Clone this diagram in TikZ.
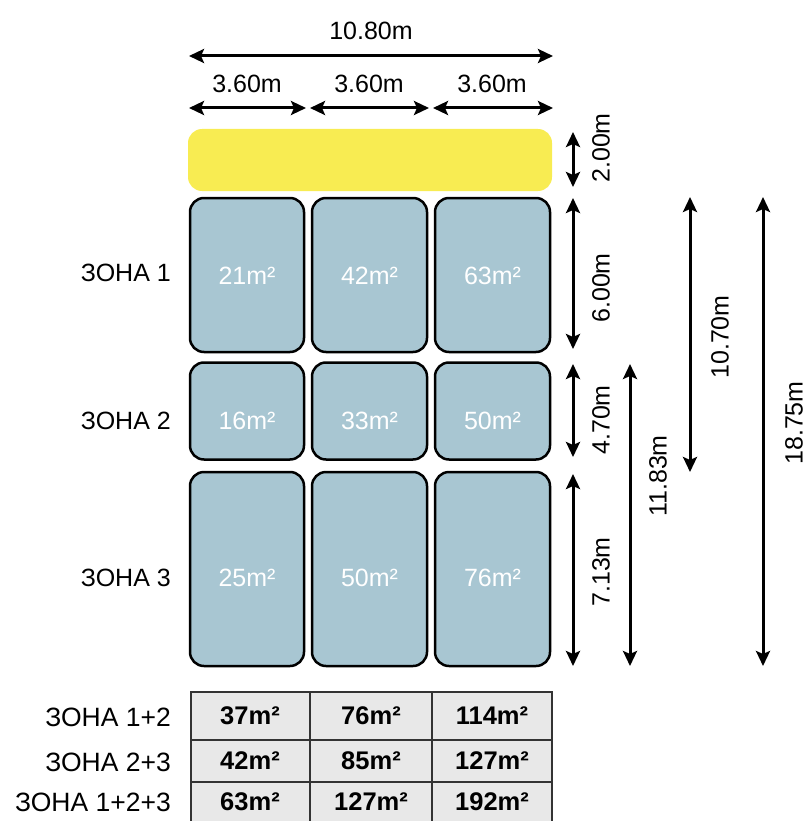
\documentclass[tikz,border=0pt]{standalone}
\usepackage{fontspec}
\setmainfont{Liberation Sans}
\usetikzlibrary{arrows.meta}
\definecolor{zyellow}{HTML}{F8EC52}
\definecolor{zblue}{HTML}{A8C6D2}
\definecolor{zgray}{HTML}{E8E8E8}
\definecolor{zline}{HTML}{333333}
\begin{document}
\begin{tikzpicture}[x=1pt,y=-1pt,
  lab/.style={font=\fontsize{25}{30}\selectfont, inner sep=0pt},
  tlab/.style={font=\fontsize{26.5}{30}\selectfont, inner sep=0pt},
  wlab/.style={lab, text=white},
  blab/.style={lab, font=\fontsize{25.5}{30}\selectfont\bfseries},
  rlab/.style={lab, rotate=90},
  room/.style={draw=black, line width=2.5pt, fill=zblue, rounded corners=14pt, inner sep=0pt},
  cell/.style={draw=zline, line width=2pt, fill=zgray, inner sep=0pt},
  dim/.style={line width=3pt, {Stealth[length=15pt,width=14pt,inset=3pt]}-{Stealth[length=15pt,width=14pt,inset=3pt]}}]
\useasboundingbox (0,0) rectangle (808,821);
\clip (0,0) rectangle (808,821);

% yellow strip
\node[fill=zyellow, rounded corners=14pt, minimum width=364pt, minimum height=62pt, inner sep=0pt] (strip) at (370,160) {};

% rooms
\node[room, minimum width=114pt, minimum height=154pt] (r11) at (247,275) {};
\node[room, minimum width=115pt, minimum height=154pt] (r12) at (369.5,275) {};
\node[room, minimum width=115pt, minimum height=154pt] (r13) at (492.5,275) {};
\node[room, minimum width=114pt, minimum height=97pt] (r21) at (247,411) {};
\node[room, minimum width=115pt, minimum height=97pt] (r22) at (369.5,411) {};
\node[room, minimum width=115pt, minimum height=97pt] (r23) at (492.5,411) {};
\node[room, minimum width=114pt, minimum height=194pt] (r31) at (247,569) {};
\node[room, minimum width=115pt, minimum height=194pt] (r32) at (369.5,569) {};
\node[room, minimum width=115pt, minimum height=194pt] (r33) at (492.5,569) {};

\node[wlab] (t11) at (247,276) {21m²};
\node[wlab] (t12) at (369.5,276) {42m²};
\node[wlab] (t13) at (492.5,276) {63m²};
\node[wlab] (t21) at (247,421) {16m²};
\node[wlab] (t22) at (369.5,421) {33m²};
\node[wlab] (t23) at (492.5,421) {50m²};
\node[wlab] (t31) at (247,578) {25m²};
\node[wlab] (t32) at (369.5,578) {50m²};
\node[wlab] (t33) at (492.5,578) {76m²};

% zone labels
\node[lab, anchor=east] (z1) at (171,273) {ЗОНА 1};
\node[lab, anchor=east] (z2) at (171,421) {ЗОНА 2};
\node[lab, anchor=east] (z3) at (171,578) {ЗОНА 3};

% table
\node[cell, minimum width=119pt, minimum height=48pt] (c11) at (250,716) {};
\node[cell, minimum width=123pt, minimum height=48pt] (c12) at (371,716) {};
\node[cell, minimum width=120pt, minimum height=48pt] (c13) at (492,716) {};
\node[cell, minimum width=119pt, minimum height=42pt] (c21) at (250,761) {};
\node[cell, minimum width=123pt, minimum height=42pt] (c22) at (371,761) {};
\node[cell, minimum width=120pt, minimum height=42pt] (c23) at (492,761) {};
\node[cell, minimum width=119pt, minimum height=44pt] (c31) at (250,804) {};
\node[cell, minimum width=123pt, minimum height=44pt] (c32) at (371,804) {};
\node[cell, minimum width=120pt, minimum height=44pt] (c33) at (492,804) {};

\node[blab] at (c11) {37m²};
\node[blab] at (c12) {76m²};
\node[blab] at (c13) {114m²};
\node[blab] at (c21) {42m²};
\node[blab] at (c22) {85m²};
\node[blab] at (c23) {127m²};
\node[blab] at (250,802) {63m²};
\node[blab] at (371,802) {127m²};
\node[blab] at (492,802) {192m²};

\node[tlab, anchor=east] (zz1) at (171,717) {ЗОНА 1+2};
\node[tlab, anchor=east] (zz2) at (171,762) {ЗОНА 2+3};
\node[tlab, anchor=east] (zz3) at (171,802) {ЗОНА 1+2+3};

% top dimensions
\coordinate (a0) at (189,56);
\coordinate (a1) at (553,56);
\draw[dim] (a0) -- (a1);
\node[lab] (l1080) at (371,31) {10.80m};
\coordinate (b0) at (189,108);
\coordinate (b1) at (306,108);
\coordinate (b2) at (310,108);
\coordinate (b3) at (429,108);
\coordinate (b4) at (433,108);
\coordinate (b5) at (553,108);
\draw[dim] (b0) -- (b1);
\draw[dim] (b2) -- (b3);
\draw[dim] (b4) -- (b5);
\node[lab] (l360a) at (247,84) {3.60m};
\node[lab] (l360b) at (369,84) {3.60m};
\node[lab] (l360c) at (492,84) {3.60m};

% right dimensions
\coordinate (v0) at (573,132);
\coordinate (v1) at (573,187);
\coordinate (v2) at (573,198);
\coordinate (v3) at (573,349);
\coordinate (v4) at (573,364);
\coordinate (v5) at (573,457);
\coordinate (v6) at (573,474);
\coordinate (v7) at (573,666);
\draw[dim] (v0) -- (v1);
\draw[dim] (v2) -- (v3);
\draw[dim] (v4) -- (v5);
\draw[dim] (v6) -- (v7);
\node[rlab] (l200) at (601,148) {2.00m};
\node[rlab] (l600) at (601,288) {6.00m};
\node[rlab] (l470) at (601,420) {4.70m};
\node[rlab] (l713) at (601,572) {7.13m};

\coordinate (w0) at (630,364);
\coordinate (w1) at (630,666);
\draw[dim] (w0) -- (w1);
\node[rlab] (l1183) at (658,476) {11.83m};

\coordinate (x0) at (690,197);
\coordinate (x1) at (690,472);
\draw[dim] (x0) -- (x1);
\node[rlab] (l1070) at (720,337) {10.70m};

\coordinate (y0) at (763,197);
\coordinate (y1) at (763,666);
\draw[dim] (y0) -- (y1);
\node[rlab] (l1875) at (794,423) {18.75m};
\end{tikzpicture}
\end{document}
